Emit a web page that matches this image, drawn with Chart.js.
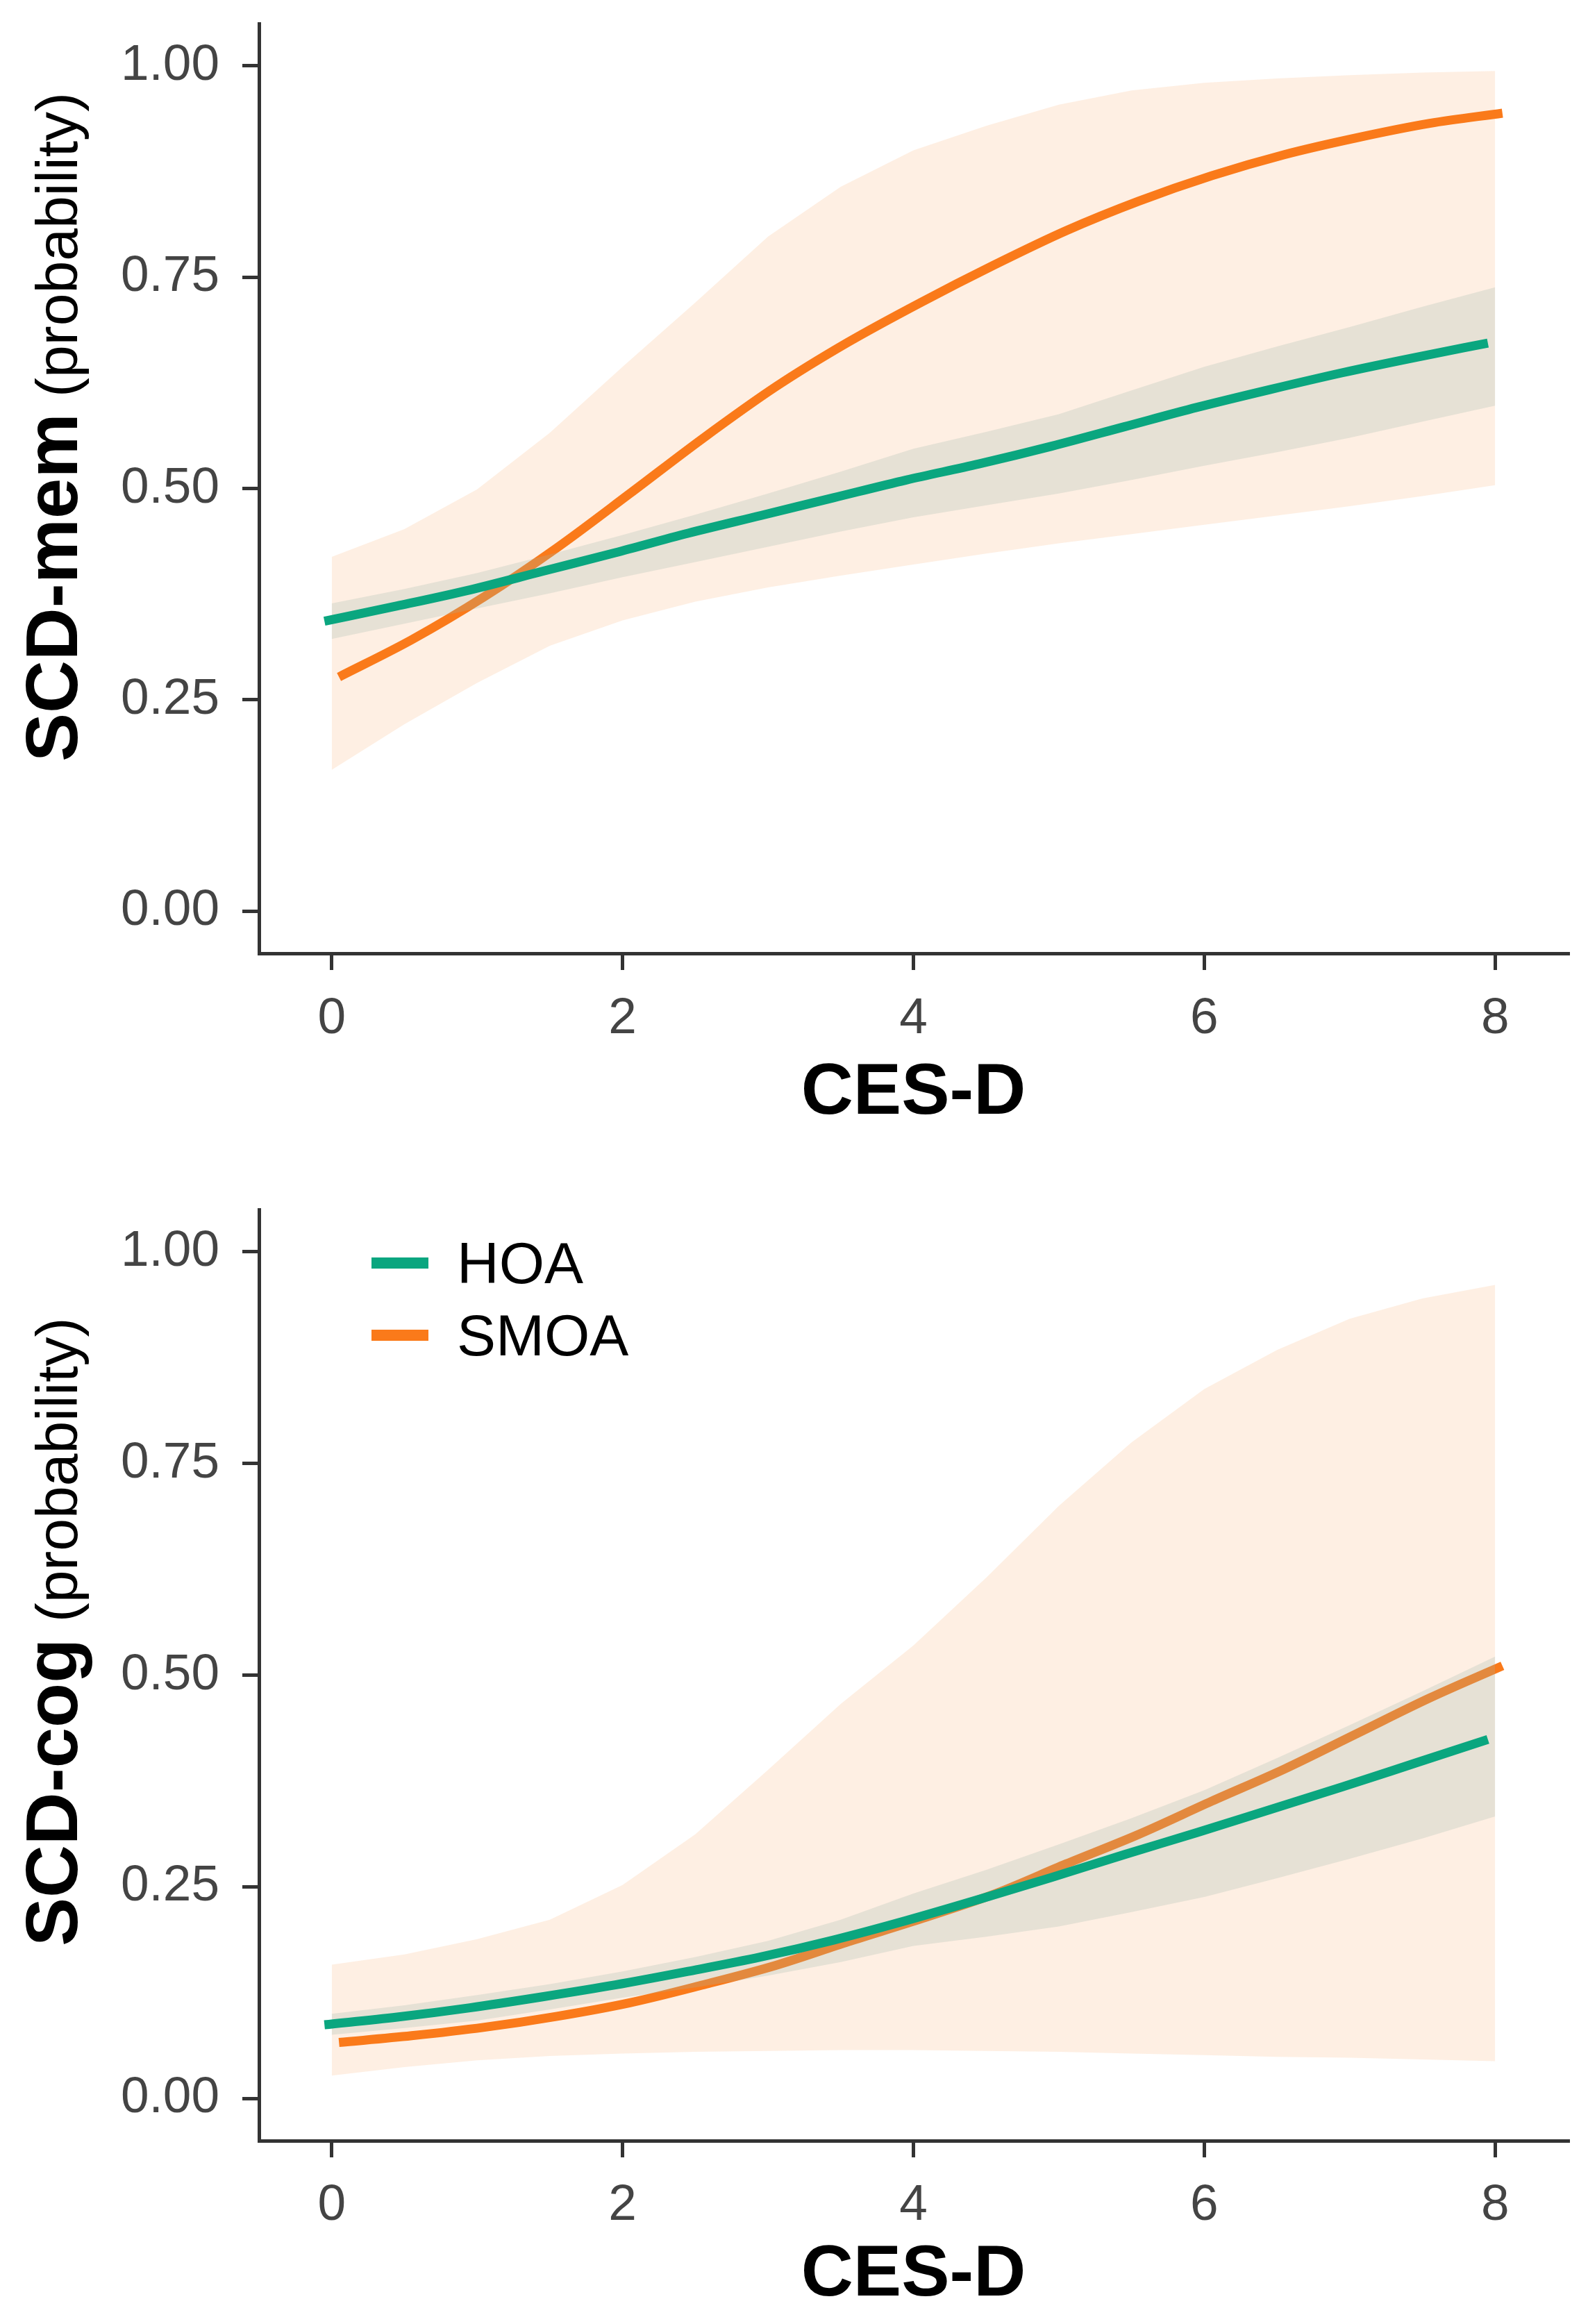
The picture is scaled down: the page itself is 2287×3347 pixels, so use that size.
<!DOCTYPE html>
<html>
<head>
<meta charset="utf-8">
<script src="https://cdn.jsdelivr.net/npm/chart.js@4.4.1/dist/chart.umd.min.js"></script>
<style>
  body { margin: 0; background: #fff; }
  canvas { display: block; }
</style>
</head>
<body>
<canvas id="chartMem" width="2287" height="1680"></canvas>
<canvas id="chartCog" width="2287" height="1667"></canvas>
<script>
Chart.defaults.font.family = "'Liberation Sans', Arial, sans-serif";

// CES-D grid the predictions were read at
const cesd = [0, 0.5, 1, 1.5, 2, 2.5, 3, 3.5, 4, 4.5, 5, 5.5, 6, 6.5, 7, 7.5, 8];
const xTicks = [0, 2, 4, 6, 8];
const yTicks = [0, 0.25, 0.5, 0.75, 1];
const groups = ['HOA', 'SMOA'];

// SCD-mem panel
const memSmoaFit = [0.277, 0.321, 0.372, 0.430, 0.494, 0.559, 0.620, 0.673, 0.720, 0.764, 0.805, 0.840, 0.870, 0.895, 0.915, 0.932, 0.944];
const memSmoaHi  = [0.419, 0.452, 0.499, 0.566, 0.644, 0.720, 0.798, 0.857, 0.900, 0.929, 0.954, 0.971, 0.980, 0.985, 0.989, 0.992, 0.994];
const memSmoaLo  = [0.167, 0.221, 0.270, 0.314, 0.344, 0.366, 0.383, 0.397, 0.410, 0.423, 0.435, 0.446, 0.457, 0.468, 0.479, 0.491, 0.504];
const memHoaFit  = [0.343, 0.361, 0.380, 0.402, 0.424, 0.447, 0.468, 0.489, 0.510, 0.529, 0.550, 0.573, 0.596, 0.617, 0.637, 0.655, 0.672];
const memHoaHi   = [0.364, 0.381, 0.400, 0.422, 0.445, 0.469, 0.494, 0.520, 0.547, 0.567, 0.588, 0.616, 0.644, 0.668, 0.691, 0.715, 0.738];
const memHoaLo   = [0.322, 0.340, 0.358, 0.376, 0.395, 0.413, 0.431, 0.449, 0.466, 0.480, 0.494, 0.510, 0.527, 0.543, 0.560, 0.579, 0.598];

// SCD-cog panel
const cogSmoaFit = [0.066, 0.074, 0.084, 0.097, 0.113, 0.134, 0.157, 0.185, 0.212, 0.241, 0.277, 0.312, 0.351, 0.389, 0.431, 0.473, 0.511];
const cogSmoaHi  = [0.158, 0.170, 0.188, 0.211, 0.252, 0.312, 0.388, 0.466, 0.535, 0.615, 0.700, 0.775, 0.838, 0.884, 0.921, 0.945, 0.961];
const cogSmoaLo  = [0.027, 0.037, 0.045, 0.050, 0.053, 0.055, 0.056, 0.057, 0.057, 0.056, 0.055, 0.053, 0.051, 0.049, 0.048, 0.046, 0.044];
const cogHoaFit  = [0.087, 0.096, 0.107, 0.120, 0.134, 0.150, 0.167, 0.187, 0.210, 0.235, 0.261, 0.288, 0.314, 0.341, 0.368, 0.396, 0.424];
const cogHoaHi   = [0.100, 0.110, 0.122, 0.135, 0.150, 0.167, 0.186, 0.211, 0.242, 0.270, 0.300, 0.331, 0.364, 0.402, 0.441, 0.481, 0.522];
const cogHoaLo   = [0.075, 0.083, 0.092, 0.105, 0.119, 0.131, 0.145, 0.161, 0.180, 0.191, 0.203, 0.220, 0.238, 0.260, 0.283, 0.307, 0.333];

const GREEN = '#0aa67f';
const ORANGE = '#fa7a1a';
const DODGE = 0.05;   // lines are dodged a little, ribbons are not

const pts = (vals, shift) => vals.map((v, i) => ({ x: cesd[i] + (shift || 0), y: v }));

function buildDatasets(smoaFit, smoaHi, smoaLo, hoaFit, hoaHi, hoaLo) {
    const band = { pointRadius: 0, borderWidth: 0, tension: 0 };
    const line = { pointRadius: 0, borderWidth: 13, fill: false, cubicInterpolationMode: 'monotone', borderCapStyle: 'butt' };
    return [
        { ...band, label: 'SMOA lo', data: pts(smoaLo), fill: false, order: 6 },
        { ...band, label: 'SMOA hi', data: pts(smoaHi), fill: '-1', backgroundColor: 'rgba(249,123,28,0.12)', order: 5 },
        { ...line, label: 'SMOA', data: pts(smoaFit, DODGE), borderColor: ORANGE, order: 4 },
        { ...band, label: 'HOA lo', data: pts(hoaLo), fill: false, order: 3 },
        { ...band, label: 'HOA hi', data: pts(hoaHi), fill: '-1', backgroundColor: 'rgba(160,185,170,0.25)', order: 2 },
        { ...line, label: 'HOA', data: pts(hoaFit, -DODGE), borderColor: GREEN, order: 1 }
    ];
}

// y title: bold name + plain "(probability)" on one rotated baseline
function yTitlePlugin(name, baseX, startY) {
    return {
        id: 'yTitle',
        afterDraw(chart) {
            const ctx = chart.ctx;
            ctx.save();
            ctx.translate(baseX, startY);
            ctx.rotate(-Math.PI / 2);
            ctx.fillStyle = '#000';
            ctx.textAlign = 'left';
            ctx.textBaseline = 'alphabetic';
            ctx.font = "bold 105px 'Liberation Sans', Arial, sans-serif";
            ctx.fillText(name, 0, 0);
            const w = ctx.measureText(name).width;
            ctx.font = "84px 'Liberation Sans', Arial, sans-serif";
            ctx.fillText(' (probability)', w, 0);
            ctx.restore();
        }
    };
}

const legendPlugin = {
    id: 'insideLegend',
    afterDraw(chart) {
        const ctx = chart.ctx;
        const cols = [GREEN, ORANGE];
        ctx.save();
        groups.forEach((g, i) => {
            const y = 139 + i * 104;
            ctx.strokeStyle = cols[i];
            ctx.lineWidth = 16;
            ctx.lineCap = 'butt';
            ctx.beginPath();
            ctx.moveTo(535, y);
            ctx.lineTo(617, y);
            ctx.stroke();
            ctx.fillStyle = '#000';
            ctx.font = "84px 'Liberation Sans', Arial, sans-serif";
            ctx.textBaseline = 'alphabetic';
            ctx.fillText(g, 658, y + 29);
        });
        ctx.restore();
    }
};

function makeChart(id, datasets, cfg, extraPlugins) {
    const ctx = document.getElementById(id).getContext('2d');
    return new Chart(ctx, {
        type: 'line',
        data: { datasets: datasets },
        options: {
            responsive: false, animation: false, devicePixelRatio: 1,
            layout: { padding: { top: cfg.top, right: 29, left: 0, bottom: 0 } },
            plugins: { legend: { display: false }, tooltip: { enabled: false } },
            scales: {
                x: {
                    type: 'linear', min: -0.5, max: 8.5, bounds: 'data',
                    afterBuildTicks: s => { s.ticks = xTicks.map(v => ({ value: v })); },
                    afterFit: s => { s.height = cfg.xAxisH; s.paddingLeft = 0; s.paddingRight = 0; },
                    grid: { display: true, drawOnChartArea: false, drawTicks: true, tickLength: 24, lineWidth: 5, color: '#333' },
                    border: { display: true, color: '#333', width: 5 },
                    ticks: { color: '#444', font: { size: 73 }, padding: cfg.xTickPad, autoSkip: false, maxRotation: 0, callback: v => String(v) },
                    title: { display: true, text: 'CES-D', color: '#000', font: { size: 104, weight: 'bold' }, padding: { top: 0, bottom: cfg.xTitlePad } }
                },
                y: {
                    type: 'linear', min: -0.05, max: 1.05, bounds: 'data',
                    afterBuildTicks: s => { s.ticks = yTicks.map(v => ({ value: v })); },
                    afterFit: s => { s.width = 373; s.paddingTop = 0; s.paddingBottom = 0; },
                    grid: { display: true, drawOnChartArea: false, drawTicks: true, tickLength: 24, lineWidth: 5, color: '#333' },
                    border: { display: true, color: '#333', width: 5 },
                    ticks: { color: '#444', font: { size: 73 }, padding: 33, autoSkip: false, callback: v => v.toFixed(2) },
                    title: { display: false }
                }
            }
        },
        plugins: extraPlugins
    });
}

makeChart('chartMem',
    buildDatasets(memSmoaFit, memSmoaHi, memSmoaLo, memHoaFit, memHoaHi, memHoaLo),
    { top: 34, xAxisH: 307, xTickPad: 27, xTitlePad: 42 },
    [yTitlePlugin('SCD-mem', 111, 1097)]);

makeChart('chartCog',
    buildDatasets(cogSmoaFit, cogSmoaHi, cogSmoaLo, cogHoaFit, cogHoaHi, cogHoaLo),
    { top: 62, xAxisH: 264, xTickPad: 26, xTitlePad: 7 },
    [yTitlePlugin('SCD-cog', 111, 1123), legendPlugin]);
</script>
</body>
</html>
